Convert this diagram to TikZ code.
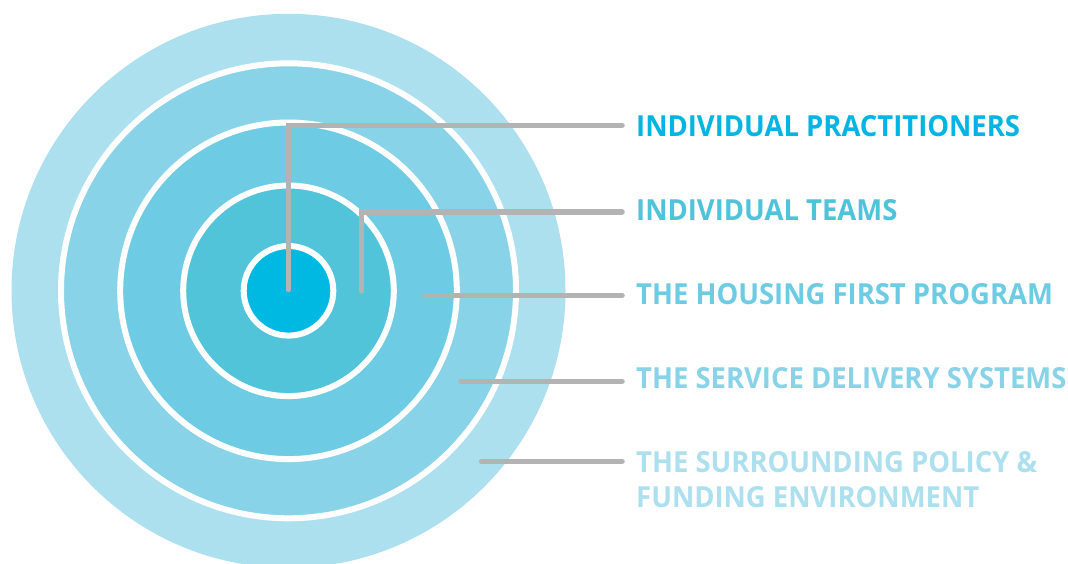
\documentclass[tikz,border=0pt]{standalone}
\usepackage{fontspec}
\setmainfont{Open Sans}[FakeStretch=0.946]
\definecolor{cA}{HTML}{ADE0EE}
\definecolor{cB}{HTML}{88D3E8}
\definecolor{cC}{HTML}{6DCCE4}
\definecolor{cD}{HTML}{52C4DA}
\definecolor{cE}{HTML}{00B9E3}
\definecolor{tA}{HTML}{00B5E2}
\definecolor{tB}{HTML}{4FC3D9}
\definecolor{lineg}{HTML}{B3B3B3}
\tikzset{
  ring/.style={draw=white, line width=6pt},
  conn/.style={draw=lineg, line width=5.5pt, line cap=round, line join=miter},
  lbl/.style={inner sep=0pt, anchor=base west, font=\fontsize{29}{34}\selectfont\bfseries}
}
\begin{document}
\begin{tikzpicture}[x=1pt,y=-1pt]
\useasboundingbox (0,0) rectangle (1068,563);
\clip (0,0) rectangle (1068,563);
\fill[white] (0,0) rectangle (1068,563);
\coordinate (c) at (288.5,290.8);
% rings
\fill[cA] (c) circle[radius=277pt];
\filldraw[ring, fill=cB] (c) circle[radius=227.5pt];
\filldraw[ring, fill=cC] (c) circle[radius=168.3pt];
\filldraw[ring, fill=cD] (c) circle[radius=105.3pt];
\filldraw[ring, fill=cE] (c) circle[radius=44.8pt];
% labels
\node[lbl, text=tA] (t1) at (636,136) {INDIVIDUAL PRACTITIONERS};
\node[lbl, text=tB] (t2) at (636,220.5) {INDIVIDUAL TEAMS};
\node[lbl, text=cC] (t3) at (636,304.6) {THE HOUSING FIRST PROGRAM};
\node[lbl, text=cB] (t4) at (636,388.6) {THE SERVICE DELIVERY SYSTEMS};
\node[lbl, text=cA] (t5) at (636,472.9) {THE SURROUNDING POLICY \&};
\node[lbl, text=cA] (t6) at (636,507.2) {FUNDING ENVIRONMENT};
% connector ends
\coordinate (s1) at (288.3,289.5);
\coordinate (e1) at (622,125.3);
\coordinate (s2) at (361.6,291);
\coordinate (e2) at (622,211.8);
\coordinate (s3) at (425,295.3);
\coordinate (e3) at (622,295.3);
\coordinate (s4) at (461,381.3);
\coordinate (e4) at (622,381.3);
\coordinate (s5) at (481.5,461.3);
\coordinate (e5) at (622,461.3);
\draw[conn] (s1) |- (e1);
\draw[conn] (s2) |- (e2);
\draw[conn] (s3) -- (e3);
\draw[conn] (s4) -- (e4);
\draw[conn] (s5) -- (e5);
\end{tikzpicture}
\end{document}
